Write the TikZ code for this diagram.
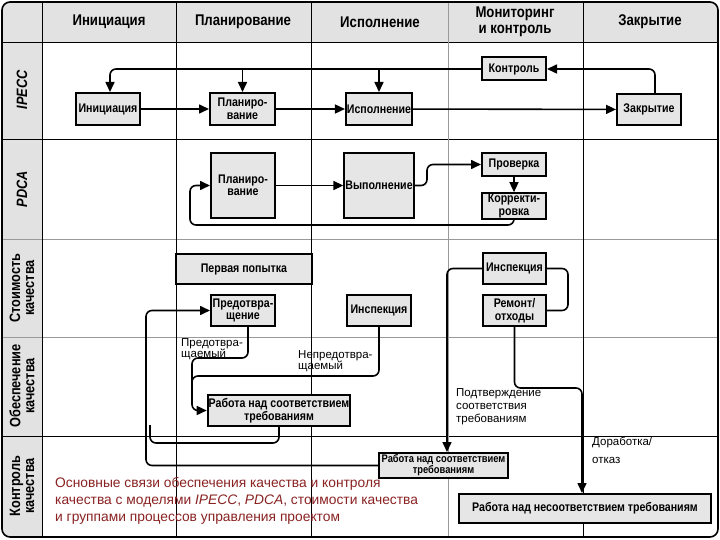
\documentclass[tikz,border=0pt]{standalone}
\usepackage{fontspec}
\setmainfont{Liberation Sans}
\newfontfamily\cnd[FakeStretch=0.85]{Liberation Sans}
\usetikzlibrary{arrows.meta}
\definecolor{hdr}{HTML}{E2E2E2}
\definecolor{boxf}{HTML}{E6E6E6}
\definecolor{capred}{HTML}{8A2222}
\definecolor{gridg}{HTML}{9A9A9A}
\begin{document}
\begin{tikzpicture}[x=1pt,y=-1pt,
  box/.style={draw,line width=2pt,fill=boxf,inner sep=1pt,align=center,font=\cnd\bfseries\fontsize{12.5}{12.5}\selectfont},
  ln/.style={line width=1.6pt},
  arr/.style={line width=1.6pt,-{Triangle[length=10pt,width=9pt]}},
  rc/.style={rounded corners=6pt},
  hd/.style={font=\cnd\bfseries\fontsize{15.5}{15.5}\selectfont,align=center},
  side/.style={rotate=90,font=\cnd\bfseries\fontsize{15}{14}\selectfont,align=center},
  lbl/.style={anchor=north west,inner sep=0pt,align=left,font=\fontsize{11.5}{11}\selectfont},
  gl/.style={line width=0.8pt},
  gll/.style={line width=0.8pt,gridg}
]
\useasboundingbox (0,0) rectangle (720,540);
% background
\begin{scope}
\clip[rounded corners=8pt] (2,2) rectangle (718,537);
\fill[hdr] (2,2) rectangle (718,537);
\fill[white] (42,42) rectangle (718,537);
\end{scope}
\draw[gl] (2,42) -- (718,42);
\draw[gl] (2,139) -- (718,139);
\draw[gll] (2,239) -- (718,239);
\draw[gll] (2,337) -- (718,337);
\draw[gl] (2,436) -- (718,436);
\foreach \x in {42,176,311,583} \draw[gl] (\x,2) -- (\x,537);
\draw[gll] (448,2) -- (448,537);
\draw[line width=1.6pt,rounded corners=8pt] (2,2) rectangle (718,537);

% headers
\node[hd] (h1) at (109,22) {Инициация};
\node[hd] (h2) at (243,22) {Планирование};
\node[hd] (h3) at (380,22) {Исполнение};
\node[hd] (h4) at (515,22) {Мониторинг\\и контроль};
\node[hd] (h5) at (650,22) {Закрытие};
\node[side] (s1) at (22,90) {\itshape IPECC};
\node[side] (s2) at (22,189) {\itshape PDCA};
\node[side] (s3) at (22,288) {Стоимость\\качества};
\node[side] (s4) at (22,386) {Обеспечение\\качества};
\node[side] (s5) at (22,486) {Контроль\\качества};

% IPECC
\node[box,minimum width=64pt,minimum height=32pt] (ini) at (108,109) {Инициация};
\node[box,minimum width=65pt,minimum height=32pt] (pl1) at (242.5,109) {Планиро-\\вание};
\node[box,minimum width=64pt,minimum height=32pt] (isp) at (379,109) {Исполнение};
\node[box,minimum width=64pt,minimum height=23pt] (kon) at (514,69) {Контроль};
\node[box,minimum width=64pt,minimum height=31pt] (zak) at (649,109.5) {Закрытие};
\draw[arr] (ini) -- (pl1);
\draw[arr] (pl1) -- (isp);
\draw[arr] (isp) -- (zak);
\draw[arr,rc] ([xshift=6pt]zak.north) |- (kon.east);
\draw[arr,rc] (kon.west) -| ([xshift=2pt]ini.north);
\draw[arr] (kon.west -| pl1.north) -- (pl1.north);
\draw[arr] (kon.west -| isp.north) -- (isp.north);

% PDCA
\node[box,minimum width=64pt,minimum height=65pt] (pl2) at (243,185.5) {Планиро-\\вание};
\node[box,minimum width=64pt,minimum height=65pt] (vyp) at (379,185.5) {Выполнение};
\node[box,minimum width=64pt,minimum height=23pt] (pro) at (514,164.5) {Проверка};
\node[box,minimum width=64pt,minimum height=24pt] (kor) at (514,206) {Корректи-\\ровка};
\coordinate (sx) at (427,0);
\coordinate (lp) at (190,225);
\draw[arr] (pl2) -- (vyp);
\draw[arr,rc] (vyp.east) -- (vyp.east -| sx) -- (pro.west -| sx) -- (pro.west);
\draw[arr] (pro) -- (kor);
\draw[arr,rc] (kor.south) |- (lp) |- (pl2.west);

% cost of quality
\node[box,minimum width=136pt,minimum height=30pt] (pp) at (244,269) {Первая попытка};
\node[box,minimum width=64pt,minimum height=31pt] (pre) at (243,310.5) {Предотвра-\\щение};
\node[box,minimum width=64pt,minimum height=31pt] (in1) at (379,310.5) {Инспекция};
\node[box,minimum width=63pt,minimum height=31pt] (in2) at (514.5,268.5) {Инспекция};
\node[box,minimum width=63pt,minimum height=31pt] (rem) at (514.5,310.5) {Ремонт/\\отходы};

% assurance / control
\node[box,minimum width=136pt,minimum height=31pt] (rwc1) at (279,410.5) {Работа над соответствием\\требованиям};
\node[box,minimum width=129pt,minimum height=25pt,font=\cnd\bfseries\fontsize{11}{11}\selectfont] (rwc2) at (443.5,465.5) {Работа над соответствием\\требованиям};
\node[box,minimum width=252pt,minimum height=29pt] (rnc) at (585,508.5) {Работа над несоответствием требованиям};

\coordinate (rx) at (568,0);
\draw[ln,rc] (in2.east) -- (in2.east -| rx) -- (rem.east -| rx) -- (rem.east);
\draw[arr,rc] (in2.west) -| ([xshift=3.5pt]rwc2.north);
\coordinate (c1) at (582,388);
\draw[arr,rc] (rem.south) |- (c1) -- ([xshift=-3pt]rnc.north);

\draw[arr,rc] ([xshift=5pt]pre.south) |- (192,358) |- (rwc1.west);
\draw[ln,rc] (in1.south) |- (192,376) -- (192,392);
\coordinate (lx) at (146,0);
\draw[ln,rc] (rwc1.south) |- (150,443) -- (150,425);
\draw[arr,rc] (rwc2.west) -- (rwc2.west -| lx) -- (pre.west -| lx) -- (pre.west);

% labels
\node[lbl] (t1) at (181,338) {Предотвра-\\щаемый};
\node[lbl] (t2) at (298,350) {Непредотвра-\\щаемый};
\node[lbl,font=\fontsize{11.5}{13}\selectfont] (t3) at (456,388) {Подтверждение\\соответствия\\требованиям};
\node[lbl,font=\fontsize{11.5}{18}\selectfont] (t4) at (592,437) {Доработка/\\отказ};
\node[lbl,text=capred,font=\fontsize{13.8}{17}\selectfont] (cap) at (55,477) {Основные связи обеспечения качества и контроля\\качества с моделями \textit{IPECC}, \textit{PDCA}, стоимости качества\\и группами процессов управления проектом};
\end{tikzpicture}
\end{document}
